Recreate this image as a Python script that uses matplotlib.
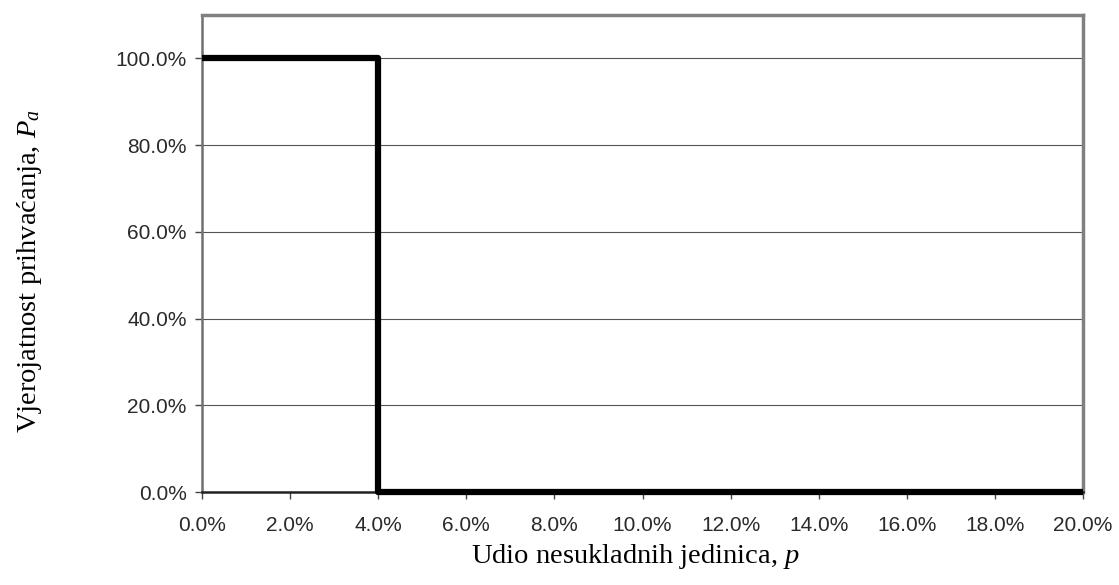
import matplotlib
matplotlib.use("Agg")
import matplotlib.pyplot as plt
from matplotlib.ticker import PercentFormatter

plt.rcParams['mathtext.fontset'] = 'custom'
plt.rcParams['mathtext.rm'] = 'Liberation Serif'
plt.rcParams['mathtext.it'] = 'Liberation Serif:italic'

# Data: ideal OC curve (step)
p_values = [0.0, 0.04, 0.04, 0.20]
pa_values = [1.0, 1.0, 0.0, 0.0]

x_ticks = [0.0, 0.02, 0.04, 0.06, 0.08, 0.10, 0.12, 0.14, 0.16, 0.18, 0.20]
y_ticks = [0.0, 0.2, 0.4, 0.6, 0.8, 1.0]

fig = plt.figure(figsize=(11.19, 5.85), dpi=100)
ax = fig.add_axes([202/1119, 1 - 492/585, (1083-202)/1119, (492-15)/585])

ax.set_xlim(0, 0.2)
ax.set_ylim(0, 1.1)
ax.set_xticks(x_ticks)
ax.set_yticks(y_ticks)
ax.xaxis.set_major_formatter(PercentFormatter(1.0, decimals=1))
ax.yaxis.set_major_formatter(PercentFormatter(1.0, decimals=1))

ax.grid(axis='y', color='#555555', linewidth=0.8, zorder=1)
ax.set_axisbelow(True)

ax.plot(p_values, pa_values, color='black', linewidth=4.5,
        solid_joinstyle='round', solid_capstyle='butt', zorder=3, clip_on=False)

for s in ['top', 'right']:
    ax.spines[s].set_color('#808080')
    ax.spines[s].set_linewidth(2.5)
ax.spines['left'].set_color('#707070')
ax.spines['left'].set_linewidth(1.8)
ax.spines['bottom'].set_color('#222222')
ax.spines['bottom'].set_linewidth(1.8)

ax.tick_params(axis='both', direction='out', length=5, width=1, color='#444444',
               labelsize=15, labelcolor='#2a2a2a')
ax.tick_params(axis='x', pad=12)
ax.tick_params(axis='y', pad=6)
for lbl in ax.get_xticklabels() + ax.get_yticklabels():
    lbl.set_family('Liberation Sans')

fig.text(635/1119, 1 - 563/585, 'Udio nesukladnih jedinica, $p$',
         family='Liberation Serif', fontsize=20.5, ha='center', va='baseline')
fig.text(30/1119, 1 - 271/585, 'Vjerojatnost prihvaćanja, $P_a$',
         family='Liberation Serif', fontsize=20.5, ha='center', va='center',
         rotation=90)

fig.savefig('out.png', dpi=100)
